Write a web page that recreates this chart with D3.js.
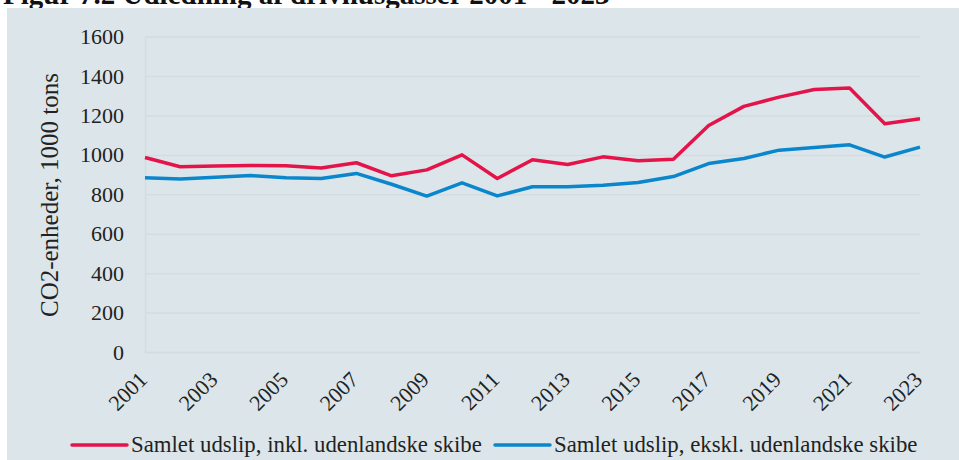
<!DOCTYPE html>
<html><head><meta charset="utf-8">
<script src="https://cdn.jsdelivr.net/npm/d3@7"></script>
<style>body{margin:0;background:#fff}svg{display:block}</style>
</head><body>
<svg id="c" width="959" height="460"></svg>
<script>
const years = d3.range(2001, 2024);
const inkl = [987,940,943,946,945,933,960,894,924,1000,880,975,951,990,970,978,1149,1246,1293,1332,1339,1158,1183];
const ekskl = [884,877,887,895,884,880,906,851,791,858,792,838,838,846,860,890,956,982,1024,1038,1051,989,1039];
const yTicks = [0,200,400,600,800,1000,1200,1400,1600];
const xTickYears = years.filter(y => (y - 2001) % 2 === 0);
const seriesNames = ["Samlet udslip, inkl. udenlandske skibe", "Samlet udslip, ekskl. udenlandske skibe"];
const colors = ["#e4144a", "#0a86cc"];
const font = "'Liberation Serif', 'Times New Roman', serif";

const svg = d3.select("#c");
svg.append("text").attr("x",3).attr("y",3.5).attr("font-family",font).attr("font-weight","bold")
  .attr("font-size",29).attr("fill","#111").text("Figur 7.2 Udledning af drivhusgasser 2001 - 2023");
svg.append("rect").attr("x",7).attr("y",8).attr("width",952).attr("height",452).attr("fill","#dce6ea");

const x = d3.scaleLinear().domain([2001,2023]).range([145,920]);
const y = d3.scaleLinear().domain([0,1600]).range([352,36.6]);

// gridlines
const yAxis = d3.axisLeft(y).tickValues(yTicks).tickSize(-(920-145)).tickPadding(21).tickFormat(d3.format("d"));
const gy = svg.append("g").attr("transform","translate(145,0)").call(yAxis);
gy.select(".domain").attr("stroke","#d3dcdf").attr("stroke-width",1.5);
gy.selectAll(".tick line").attr("stroke","#d3dcdf").attr("stroke-width",1.5);
gy.selectAll(".tick text").attr("font-family",font).attr("font-size",22).attr("fill","#222");

const xAxis = d3.axisBottom(x).tickValues(xTickYears).tickSize(0).tickFormat(d3.format("d"));
const gx = svg.append("g").attr("transform","translate(0,352)").call(xAxis);
gx.select(".domain").remove();
gx.selectAll(".tick text").attr("font-family",font).attr("font-size",22).attr("fill","#222")
  .attr("text-anchor","end").attr("dy",0).attr("y",0)
  .attr("transform","translate(3,29) rotate(-45)");

svg.append("text").attr("transform","translate(58,195) rotate(-90)").attr("text-anchor","middle")
  .attr("font-family",font).attr("font-size",25).attr("fill","#222").text("CO2-enheder, 1000 tons");

const line = d3.line().x((d,i)=>x(years[i])).y(d=>y(d));
[inkl, ekskl].forEach((s,i)=>{
  svg.append("path").datum(s).attr("d",line).attr("fill","none").attr("stroke",colors[i])
    .attr("stroke-width",3.5).attr("stroke-linejoin","round");
});

// legend
const legX = [72, 495];
seriesNames.forEach((n,i)=>{
  svg.append("line").attr("x1",legX[i]).attr("x2",legX[i]+55).attr("y1",445).attr("y2",445)
    .attr("stroke",colors[i]).attr("stroke-width",3.5).attr("stroke-linecap","round");
  svg.append("text").attr("x",legX[i]+59).attr("y",452).attr("font-family",font).attr("font-size",22.8)
    .attr("fill","#222").text(n);
});
</script>
</body></html>
